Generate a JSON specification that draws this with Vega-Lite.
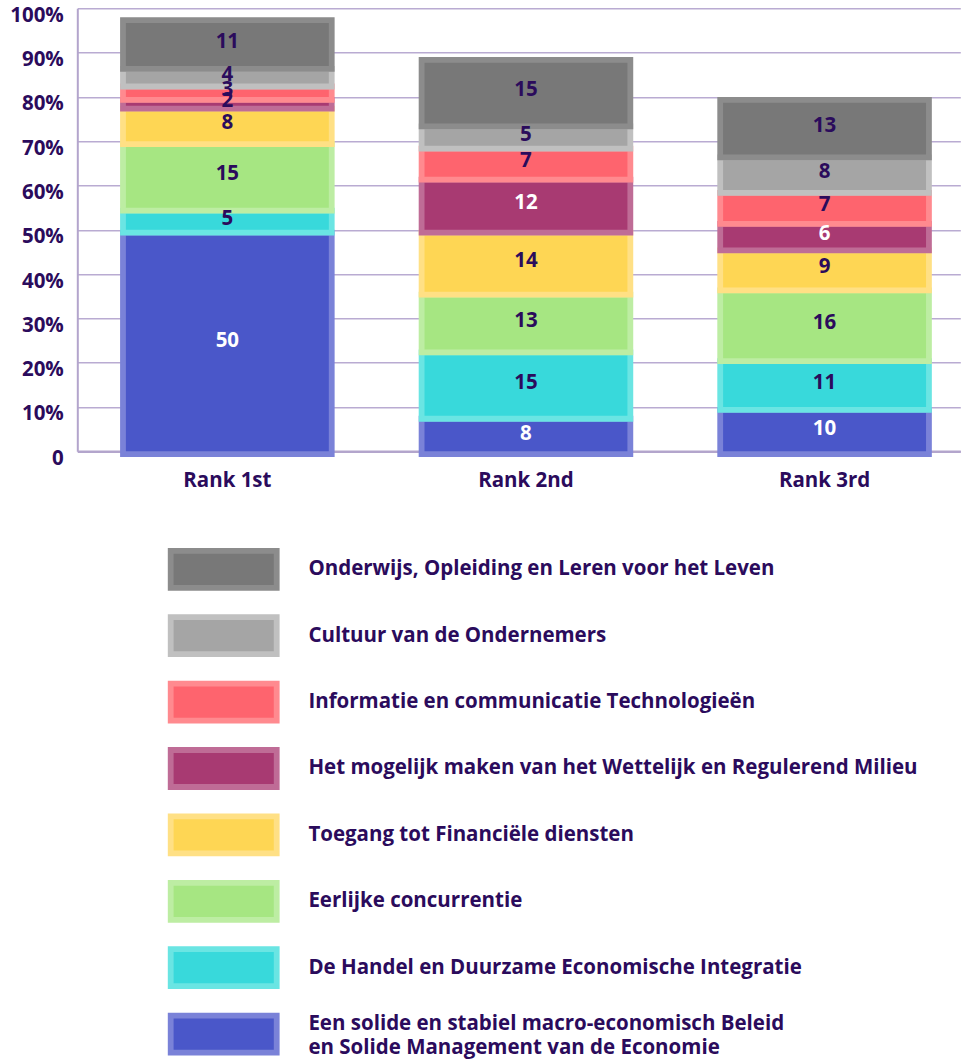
{
  "$schema": "https://vega.github.io/schema/vega-lite/v6.json",
  "autosize": {"type": "none"},
  "width": 883,
  "height": 443,
  "padding": {"left": 77.3, "top": 8.3, "right": 0.7, "bottom": 608.4},
  "background": "white",
  "config": {
    "view": {"stroke": null},
    "font": "Open Sans",
    "axis": {"labelFont": "Open Sans", "labelFontWeight": "bold", "labelColor": "#2b0b5c"},
    "legend": {"labelFont": "Open Sans", "labelFontWeight": "bold", "labelColor": "#2b0b5c"}
  },
  "data": {
    "values": [
      {"rank": "Rank 1st", "cat": "Een solide en stabiel macro-economisch Beleid en Solide Management van de Economie", "value": 50, "order": 1},
      {"rank": "Rank 1st", "cat": "De Handel en Duurzame Economische Integratie", "value": 5, "order": 2},
      {"rank": "Rank 1st", "cat": "Eerlijke concurrentie", "value": 15, "order": 3},
      {"rank": "Rank 1st", "cat": "Toegang tot Financiële diensten", "value": 8, "order": 4},
      {"rank": "Rank 1st", "cat": "Het mogelijk maken van het Wettelijk en Regulerend Milieu", "value": 2, "order": 5},
      {"rank": "Rank 1st", "cat": "Informatie en communicatie Technologieën", "value": 3, "order": 6},
      {"rank": "Rank 1st", "cat": "Cultuur van de Ondernemers", "value": 4, "order": 7},
      {"rank": "Rank 1st", "cat": "Onderwijs, Opleiding en Leren voor het Leven", "value": 11, "order": 8},
      {"rank": "Rank 2nd", "cat": "Een solide en stabiel macro-economisch Beleid en Solide Management van de Economie", "value": 8, "order": 1},
      {"rank": "Rank 2nd", "cat": "De Handel en Duurzame Economische Integratie", "value": 15, "order": 2},
      {"rank": "Rank 2nd", "cat": "Eerlijke concurrentie", "value": 13, "order": 3},
      {"rank": "Rank 2nd", "cat": "Toegang tot Financiële diensten", "value": 14, "order": 4},
      {"rank": "Rank 2nd", "cat": "Het mogelijk maken van het Wettelijk en Regulerend Milieu", "value": 12, "order": 5},
      {"rank": "Rank 2nd", "cat": "Informatie en communicatie Technologieën", "value": 7, "order": 6},
      {"rank": "Rank 2nd", "cat": "Cultuur van de Ondernemers", "value": 5, "order": 7},
      {"rank": "Rank 2nd", "cat": "Onderwijs, Opleiding en Leren voor het Leven", "value": 15, "order": 8},
      {"rank": "Rank 3rd", "cat": "Een solide en stabiel macro-economisch Beleid en Solide Management van de Economie", "value": 10, "order": 1},
      {"rank": "Rank 3rd", "cat": "De Handel en Duurzame Economische Integratie", "value": 11, "order": 2},
      {"rank": "Rank 3rd", "cat": "Eerlijke concurrentie", "value": 16, "order": 3},
      {"rank": "Rank 3rd", "cat": "Toegang tot Financiële diensten", "value": 9, "order": 4},
      {"rank": "Rank 3rd", "cat": "Het mogelijk maken van het Wettelijk en Regulerend Milieu", "value": 6, "order": 5},
      {"rank": "Rank 3rd", "cat": "Informatie en communicatie Technologieën", "value": 7, "order": 6},
      {"rank": "Rank 3rd", "cat": "Cultuur van de Ondernemers", "value": 8, "order": 7},
      {"rank": "Rank 3rd", "cat": "Onderwijs, Opleiding en Leren voor het Leven", "value": 13, "order": 8}
    ]
  },
  "encoding": {
    "x": {
      "field": "rank", "type": "nominal", "title": null,
      "scale": {"paddingInner": 0.301, "paddingOuter": 0.129, "align": 0.593},
      "axis": {"labelAngle": 0, "labelFontSize": 20.5, "labelPadding": 19, "ticks": false, "tickSize": 0,
               "domainColor": "#b3a5cc", "domainWidth": 2.5, "grid": false}
    }
  },
  "layer": [
    {
      "mark": {"type": "bar", "strokeWidth": 5.8, "yOffset": 2.9, "y2Offset": -2.9, "opacity": 1, "fillOpacity": 1, "strokeOpacity": 1},
      "encoding": {
        "y": {
          "field": "value", "type": "quantitative", "stack": "zero", "title": null,
          "scale": {"domain": [0, 100], "nice": false},
          "axis": {"values": [0, 10, 20, 30, 40, 50, 60, 70, 80, 90, 100],
                   "labelExpr": "datum.value == 0 ? '0' : datum.value + '%'",
                   "labelFontSize": 20.5, "labelPadding": 14, "labelOffset": 7, "ticks": false, "tickSize": 0,
                   "domainColor": "#b3a5cc", "domainWidth": 2, "gridColor": "#b9abd2", "gridWidth": 1.4}
        },
        "order": {"field": "order", "type": "quantitative"},
        "fill": {
          "field": "cat", "type": "nominal", "title": null,
          "scale": {
            "domain": ["Onderwijs, Opleiding en Leren voor het Leven", "Cultuur van de Ondernemers", "Informatie en communicatie Technologieën", "Het mogelijk maken van het Wettelijk en Regulerend Milieu", "Toegang tot Financiële diensten", "Eerlijke concurrentie", "De Handel en Duurzame Economische Integratie", "Een solide en stabiel macro-economisch Beleid en Solide Management van de Economie"],
            "range": ["#787878", "#a5a5a5", "#fe646e", "#a83a72", "#fed654", "#a6e682", "#38d9db", "#4a57c9"]
          },
          "legend": {
            "orient": "none", "legendX": 125.4, "legendY": 540.0, "direction": "vertical",
            "symbolType": "M-3,-1.047H3V1.047H-3Z", "symbolSize": 1248.4, "symbolStrokeWidth": 5.8,
            "symbolOpacity": 1, "labelFontSize": 20.5, "labelOffset": 63.7, "rowPadding": 4.4, "labelLimit": 700,
            "labelExpr": "datum.label == 'Een solide en stabiel macro-economisch Beleid en Solide Management van de Economie' ? ['Een solide en stabiel macro-economisch Beleid', 'en Solide Management van de Economie'] : datum.label",
            "encode": {"labels": {"update": {"lineHeight": {"value": 24}, "dy": {"signal": "length(datum.label) > 60 ? -10 : 0"}}}}
          }
        },
        "stroke": {
          "field": "cat", "type": "nominal", "title": null,
          "scale": {
            "domain": ["Onderwijs, Opleiding en Leren voor het Leven", "Cultuur van de Ondernemers", "Informatie en communicatie Technologieën", "Het mogelijk maken van het Wettelijk en Regulerend Milieu", "Toegang tot Financiële diensten", "Eerlijke concurrentie", "De Handel en Duurzame Economische Integratie", "Een solide en stabiel macro-economisch Beleid en Solide Management van de Economie"],
            "range": ["#8c8c8c", "#c0c0c0", "#ff8a8f", "#bf6c96", "#ffe085", "#bdeda3", "#6ae5e3", "#7a82d8"]
          },
          "legend": {
            "orient": "none", "legendX": 125.4, "legendY": 540.0, "direction": "vertical",
            "symbolType": "M-3,-1.047H3V1.047H-3Z", "symbolSize": 1248.4, "symbolStrokeWidth": 5.8,
            "symbolOpacity": 1, "labelFontSize": 20.5, "labelOffset": 63.7, "rowPadding": 4.4, "labelLimit": 700,
            "labelExpr": "datum.label == 'Een solide en stabiel macro-economisch Beleid en Solide Management van de Economie' ? ['Een solide en stabiel macro-economisch Beleid', 'en Solide Management van de Economie'] : datum.label",
            "encode": {"labels": {"update": {"lineHeight": {"value": 24}, "dy": {"signal": "length(datum.label) > 60 ? -10 : 0"}}}}
          }
        }
      }
    },
    {
      "mark": {"type": "text", "font": "Open Sans", "fontWeight": "bold", "fontSize": 20.5, "baseline": "middle", "align": "center"},
      "encoding": {
        "y": {"field": "value", "type": "quantitative", "stack": "zero", "bandPosition": 0.5},
        "order": {"field": "order", "type": "quantitative"},
        "text": {"field": "value", "type": "quantitative"},
        "color": {
          "condition": {"test": "datum.value < 3", "value": "#2b0b5c"},
          "field": "cat", "type": "nominal", "legend": null,
          "scale": {
            "domain": ["Onderwijs, Opleiding en Leren voor het Leven", "Cultuur van de Ondernemers", "Informatie en communicatie Technologieën", "Het mogelijk maken van het Wettelijk en Regulerend Milieu", "Toegang tot Financiële diensten", "Eerlijke concurrentie", "De Handel en Duurzame Economische Integratie", "Een solide en stabiel macro-economisch Beleid en Solide Management van de Economie"],
            "range": ["#2b0b5c", "#2b0b5c", "#2b0b5c", "#ffffff", "#2b0b5c", "#2b0b5c", "#2b0b5c", "#ffffff"]
          }
        }
      }
    }
  ]
}
